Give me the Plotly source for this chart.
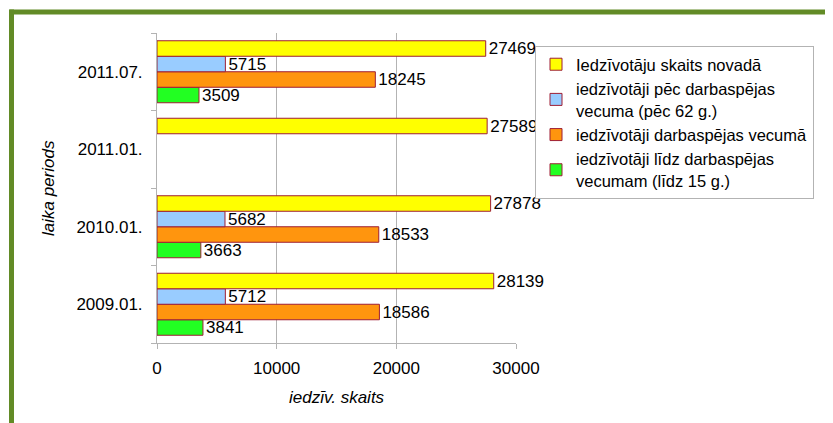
import plotly.graph_objects as go

categories = ["2009.01.", "2010.01.", "2011.01.", "2011.07."]
total = [28139, 27878, 27589, 27469]
after_working = [5712, 5682, None, 5715]
working = [18586, 18533, None, 18245]
before_working = [3841, 3663, None, 3509]

series = [
    ("iedzīvotāji līdz darbaspējas<br>vecumam (līdz 15 g.)", before_working, "#22ff22"),
    ("iedzīvotāji darbaspējas vecumā", working, "#ff950e"),
    ("iedzīvotāji pēc darbaspējas<br>vecuma (pēc 62 g.)", after_working, "#99ccff"),
    ("Iedzīvotāju skaits novadā", total, "#ffff00"),
]

FONT = "Liberation Sans, Arial, sans-serif"
W, H = 825, 415
L, T, R, B = 149, 25, 317, 80
pw, ph = W - L - R, H - T - B


def px(xp):
    return (xp - L) / pw


def py(yp):
    return (H - B - yp) / ph


fig = go.Figure()
for name, vals, col in series:
    fig.add_trace(go.Bar(
        y=categories, x=vals, orientation="h", name=name,
        marker=dict(color=col, line=dict(color="#9e1f35", width=1)),
        text=["" if v is None else str(v) for v in vals],
        textposition="outside", cliponaxis=False, constraintext="none",
        textfont=dict(family=FONT, size=17, color="#000"),
    ))

fig.update_layout(
    width=W, height=H,
    margin=dict(l=L, r=R, t=T, b=B, autoexpand=False),
    paper_bgcolor="white", plot_bgcolor="white",
    barmode="group", bargap=0.2, bargroupgap=0,
    font=dict(family=FONT, size=17, color="#000"),
    showlegend=True,
    legend=dict(
        traceorder="reversed", x=px(527), xanchor="left", y=py(38), yanchor="top",
        bgcolor="white", bordercolor="#b3b3b3", borderwidth=1,
        font=dict(family=FONT, size=16.5, color="#000"),
        tracegroupgap=0, itemwidth=30,
    ),
    xaxis=dict(
        range=[0, 30000], tickvals=[0, 10000, 20000, 30000], tickformat="d",
        showgrid=True, gridcolor="#b3b3b3", gridwidth=1,
        showline=True, linecolor="#b3b3b3", ticks="outside", ticklen=5,
        tickcolor="#b3b3b3", ticklabelstandoff=5, zeroline=False,
        tickfont=dict(family=FONT, size=17),
    ),
    yaxis=dict(
        type="category", categoryorder="array", categoryarray=categories,
        showline=True, linecolor="#b3b3b3", ticks="outside", ticklen=5,
        tickcolor="#b3b3b3", tickson="boundaries", ticklabelstandoff=10,
        showgrid=False, tickfont=dict(family=FONT, size=17),
    ),
    annotations=[
        dict(text="<i>iedzīv. skaits</i>", xref="paper", yref="paper",
             x=0.5, y=py(389), xanchor="center", yanchor="middle",
             showarrow=False, font=dict(family=FONT, size=17)),
        dict(text="<i>laika periods</i>", xref="paper", yref="paper",
             x=px(40), y=0.5, xanchor="center", yanchor="middle", textangle=-90,
             showarrow=False, font=dict(family=FONT, size=17)),
    ],
    shapes=[
        dict(type="line", xref="paper", yref="paper", x0=px(1.5), x1=px(W + 20),
             y0=py(4), y1=py(4), line=dict(color="#628b26", width=5)),
        dict(type="line", xref="paper", yref="paper", x0=px(3.5), x1=px(3.5),
             y0=py(1.5), y1=py(H + 20), line=dict(color="#628b26", width=5)),
    ],
)

fig.write_html("out.html")
